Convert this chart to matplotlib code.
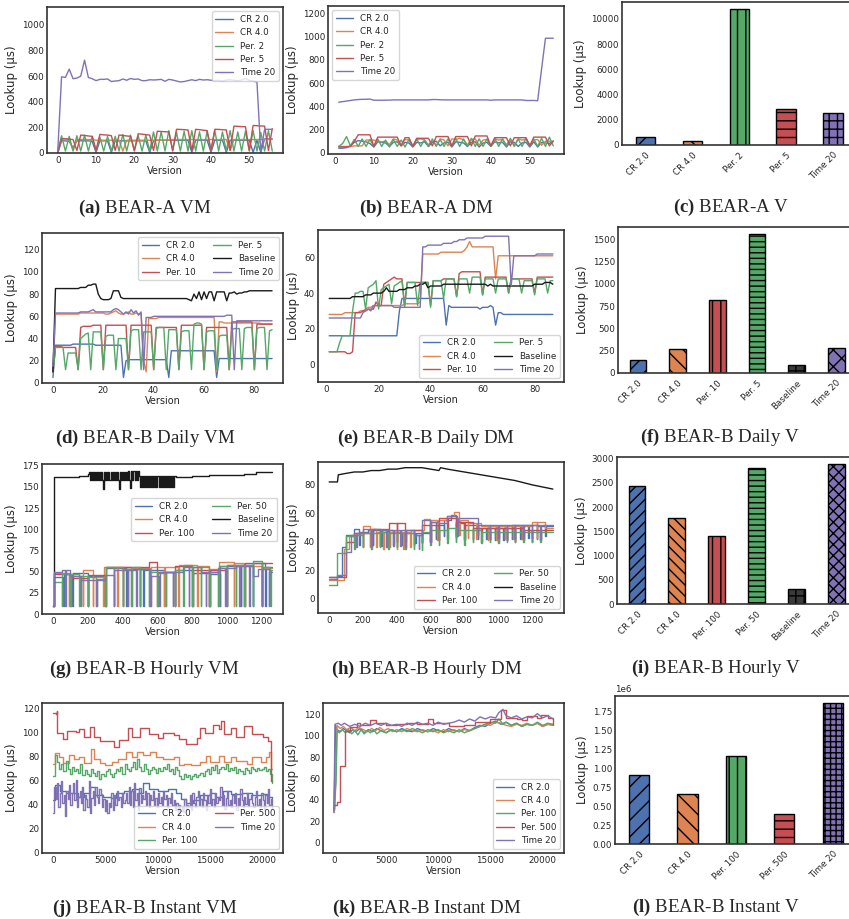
import numpy as np
import matplotlib
matplotlib.use('Agg')
import matplotlib.pyplot as plt
import seaborn as sns

# ---------------- (a) BEAR-A VM, versions 0..56
a_cr2 = [0, 95, 95, 90, 40, 95, 95, 95, 95, 90,
         5, 95, 95, 95, 5, 95, 95, 95, 95, 95,
         95, 95, 95, 95, 5, 95, 100, 100, 100, 100,
         100, 100, 100, 100, 100, 5, 100, 100, 100, 100,
         5, 100, 100, 100, 5, 100, 100, 100, 100, 100,
         100, 5, 100, 5, 110, 110, 110]
a_cr4 = [0, 115, 112, 110, 20, 105, 105, 105, 105, 105,
         100, 100, 100, 100, 100, 100, 100, 15, 100, 100,
         100, 100, 100, 100, 100, 100, 100, 100, 100, 100,
         105, 105, 105, 105, 105, 105, 105, 105, 105, 105,
         105, 105, 105, 105, 105, 20, 105, 105, 105, 105,
         105, 105, 105, 105, 105, 105, 105]
a_per2 = [15, 135, 15, 130, 15, 135, 15, 140, 15, 130,
          15, 125, 15, 130, 15, 130, 15, 145, 15, 140,
          15, 135, 15, 140, 15, 165, 15, 165, 15, 175,
          15, 160, 15, 170, 15, 175, 15, 165, 15, 170,
          15, 175, 15, 165, 15, 175, 15, 165, 15, 170,
          15, 175, 15, 160, 15, 175, 15]
a_per5 = [0, 110, 110, 108, 105, 20, 140, 137, 133, 130,
          20, 145, 142, 140, 135, 20, 140, 137, 133, 130,
          20, 150, 147, 143, 140, 20, 170, 168, 166, 165,
          20, 185, 184, 182, 180, 20, 185, 182, 178, 175,
          20, 185, 184, 182, 180, 20, 210, 208, 206, 205,
          20, 215, 213, 211, 210, 20, 190]
a_time20 = [10, 595, 590, 655, 580, 585, 600, 725, 590, 580,
            565, 575, 575, 578, 558, 562, 565, 578, 568, 582,
            575, 578, 565, 565, 572, 570, 572, 575, 560, 575,
            570, 562, 555, 558, 565, 572, 565, 575, 570, 572,
            568, 565, 568, 560, 570, 572, 568, 565, 570, 582,
            568, 560, 555, 10, 185, 185, 185]

# ---------------- (b) BEAR-A DM, versions 1..56
b_cr2 = [40, 40, 45, 60, 90, 105, 100, 95, 80, 50,
         95, 90, 85, 55, 90, 95, 60, 90, 85, 50,
         90, 85, 95, 55, 90, 100, 60, 85, 90, 50,
         95, 90, 85, 55, 90, 95, 50, 85, 90, 55,
         95, 85, 90, 50, 95, 90, 55, 85, 90, 50,
         95, 50, 90, 85, 80, 100]
b_cr4 = [55, 55, 55, 55, 60, 60, 60, 110, 110, 110,
         100, 95, 100, 70, 120, 110, 65, 115, 110, 60,
         115, 120, 110, 70, 105, 65, 120, 110, 60, 120,
         115, 125, 110, 70, 115, 120, 65, 110, 115, 60,
         120, 110, 115, 70, 115, 60, 120, 110, 115, 70,
         110, 115, 65, 100, 100, 100]
b_per2 = [55, 80, 140, 60, 115, 55, 120, 55, 115, 55,
          120, 55, 110, 50, 115, 55, 110, 50, 115, 55,
          120, 55, 110, 55, 120, 55, 115, 55, 120, 55,
          125, 55, 120, 55, 125, 55, 120, 55, 120, 55,
          125, 55, 120, 55, 125, 55, 120, 55, 125, 55,
          120, 55, 125, 55, 135, 60]
b_per5 = [50, 50, 50, 55, 100, 155, 155, 155, 155, 55,
          135, 135, 135, 135, 135, 135, 60, 130, 130, 55,
          125, 125, 125, 125, 60, 140, 140, 140, 140, 60,
          140, 140, 140, 140, 60, 145, 145, 145, 145, 60,
          130, 130, 130, 130, 60, 130, 130, 130, 130, 60,
          135, 135, 135, 135, 60, 100]
b_time20 = [435, 440, 445, 450, 455, 458, 460, 460, 462, 452,
            452, 452, 453, 453, 455, 455, 455, 455, 455, 455,
            455, 455, 455, 455, 458, 458, 456, 455, 455, 455,
            455, 455, 455, 455, 455, 455, 455, 455, 455, 452,
            455, 455, 455, 455, 455, 455, 455, 455, 450, 450,
            450, 448, 720, 985, 985, 985]

# ---------------- (c) BEAR-A V
c_labels = ['CR 2.0', 'CR 4.0', 'Per. 2', 'Per. 5', 'Time 20']
c_vals = [600, 300, 10800, 2850, 2550]

# ---------------- (d) BEAR-B Daily VM, versions 0..87
d_cr2 = [5, 34, 34, 34, 34, 34, 34, 34, 35, 35,
         35, 35, 35, 35, 35, 35, 35, 34, 34, 34,
         34, 34, 34, 34, 34, 34, 34, 34, 5, 20,
         21, 21, 21, 21, 21, 21, 21, 21, 21, 21,
         21, 21, 21, 21, 21, 21, 5, 29, 29, 29,
         29, 29, 29, 29, 29, 29, 29, 29, 29, 29,
         29, 29, 29, 29, 29, 5, 22, 22, 22, 22,
         22, 22, 22, 22, 22, 22, 22, 22, 22, 22,
         22, 22, 22, 22, 22, 22, 22, 22]
d_cr4 = [10, 62, 62, 62, 62, 62, 62, 62, 62, 62,
         62, 63, 63, 63, 63, 63, 63, 63, 63, 63,
         63, 62, 62, 63, 64, 65, 63, 62, 62, 63,
         64, 62, 62, 63, 62, 62, 20, 10, 58, 58,
         58, 58, 59, 59, 59, 59, 59, 59, 59, 59,
         59, 59, 59, 59, 59, 59, 59, 59, 59, 59,
         59, 59, 59, 59, 59, 10, 55, 55, 54, 54,
         54, 54, 54, 54, 54, 54, 54, 54, 54, 54,
         54, 54, 54, 53, 53, 53, 53, 53]
d_per10 = [10, 33, 33, 33, 32, 32, 32, 32, 32, 32,
           12, 50, 51, 51, 51, 51, 52, 52, 52, 52,
           12, 52, 52, 52, 52, 52, 52, 52, 52, 52,
           12, 52, 52, 52, 52, 52, 52, 52, 52, 52,
           12, 50, 50, 50, 50, 50, 50, 50, 50, 50,
           12, 52, 52, 52, 52, 52, 52, 52, 52, 52,
           12, 50, 50, 50, 50, 50, 50, 50, 50, 50,
           12, 55, 55, 55, 55, 55, 55, 55, 55, 55,
           12, 53, 53, 53, 53, 53, 53, 53]
d_per5 = [10, 32, 32, 32, 32, 12, 27, 27, 27, 27,
          12, 40, 42, 44, 45, 12, 46, 46, 46, 46,
          12, 42, 43, 43, 43, 12, 40, 40, 40, 40,
          12, 47, 48, 48, 48, 12, 46, 46, 46, 46,
          12, 49, 50, 50, 50, 12, 48, 48, 48, 48,
          12, 46, 47, 47, 47, 12, 53, 54, 54, 53,
          12, 46, 47, 47, 47, 12, 42, 43, 43, 43,
          12, 48, 49, 49, 49, 12, 49, 50, 50, 50,
          12, 49, 50, 50, 50, 12, 47, 48]
d_base = [10, 85, 85, 85, 85, 85, 85, 85, 85, 85,
          85, 86, 86, 86, 88, 88, 89, 89, 80, 76,
          75, 75, 75, 76, 83, 83, 83, 77, 76, 76,
          76, 76, 76, 76, 76, 76, 76, 76, 76, 76,
          76, 76, 76, 76, 76, 76, 76, 76, 76, 76,
          76, 76, 76, 76, 75, 74, 80, 76, 82, 75,
          82, 76, 82, 82, 74, 82, 82, 82, 82, 74,
          81, 81, 82, 80, 81, 81, 82, 82, 83, 83,
          83, 83, 83, 83, 83, 83, 83, 83]
d_time20 = [15, 63, 63, 63, 63, 63, 63, 63, 63, 63,
            63, 64, 64, 64, 64, 65, 66, 64, 64, 64,
            64, 64, 64, 64, 66, 67, 66, 64, 62, 64,
            62, 66, 63, 65, 61, 64, 12, 59, 59, 59,
            60, 60, 60, 60, 60, 60, 60, 60, 60, 60,
            60, 60, 60, 60, 60, 60, 60, 60, 60, 60,
            60, 60, 60, 60, 60, 60, 60, 60, 60, 61,
            61, 61, 12, 56, 56, 56, 56, 56, 56, 56,
            56, 56, 56, 56, 56, 56, 56, 56]

# ---------------- (e) BEAR-B Daily DM, versions 1..87
e_cr2 = [16, 16, 16, 16, 16, 16, 16, 16, 16, 16,
         16, 16, 16, 16, 16, 16, 16, 16, 16, 16,
         16, 16, 16, 16, 16, 16, 16, 30, 37, 37,
         37, 37, 37, 37, 37, 37, 37, 37, 37, 37,
         37, 37, 37, 37, 37, 22, 33, 32, 32, 32,
         32, 32, 32, 32, 32, 32, 32, 32, 31, 32,
         32, 32, 33, 32, 22, 29, 29, 28, 28, 28,
         28, 28, 28, 28, 28, 28, 28, 28, 28, 28,
         28, 28, 28, 28, 28, 28, 28]
e_cr4 = [28, 28, 28, 28, 28, 28, 29, 29, 29, 29,
         29, 29, 30, 30, 31, 32, 32, 33, 33, 33,
         33, 33, 33, 33, 33, 33, 33, 33, 33, 34,
         34, 34, 34, 34, 34, 35, 62, 62, 62, 62,
         62, 62, 62, 63, 63, 63, 63, 63, 63, 63,
         63, 63, 64, 66, 69, 66, 66, 66, 66, 66,
         66, 66, 66, 66, 48, 61, 61, 61, 61, 61,
         61, 61, 61, 61, 61, 61, 61, 61, 61, 61,
         61, 61, 61, 61, 61, 61, 61]
e_per10 = [7, 7, 7, 7, 7, 7, 7, 6, 6, 7,
           29, 29, 29, 30, 30, 31, 31, 31, 35, 33,
           33, 45, 46, 47, 48, 49, 48, 48, 48, 33,
           46, 46, 46, 46, 46, 46, 46, 46, 46, 33,
           47, 47, 47, 47, 48, 48, 48, 48, 48, 38,
           51, 52, 52, 52, 52, 52, 52, 52, 52, 39,
           49, 49, 49, 49, 49, 49, 49, 49, 49, 40,
           48, 48, 48, 48, 48, 48, 48, 48, 48, 40,
           49, 49, 49, 49, 49, 49, 49]
e_per5 = [7, 7, 7, 7, 12, 16, 16, 16, 16, 30,
          40, 40, 41, 41, 31, 43, 44, 45, 47, 31,
          42, 43, 44, 45, 34, 44, 45, 46, 47, 32,
          46, 46, 46, 46, 33, 46, 46, 46, 46, 32,
          47, 47, 47, 47, 37, 48, 48, 48, 48, 38,
          48, 48, 48, 48, 40, 49, 49, 49, 49, 39,
          48, 48, 48, 48, 40, 48, 48, 48, 48, 40,
          48, 48, 48, 48, 40, 47, 47, 47, 47, 39,
          48, 48, 48, 48, 40, 47, 47]
e_base = [37, 37, 37, 37, 37, 37, 37, 37, 37, 38,
          38, 38, 38, 38, 39, 39, 39, 40, 40, 40,
          40, 41, 43, 41, 41, 41, 41, 42, 42, 42,
          43, 43, 43, 44, 44, 45, 45, 46, 43, 44,
          44, 44, 44, 44, 45, 45, 45, 45, 45, 45,
          45, 45, 45, 45, 45, 45, 45, 45, 45, 45,
          45, 44, 45, 44, 44, 44, 44, 44, 44, 44,
          44, 44, 44, 44, 44, 44, 44, 44, 44, 45,
          45, 45, 45, 46, 46, 46, 45]
e_time20 = [26, 26, 26, 26, 26, 26, 26, 26, 26, 26,
            26, 26, 26, 29, 30, 31, 30, 33, 33, 33,
            33, 33, 33, 33, 33, 32, 32, 32, 32, 32,
            32, 32, 32, 32, 32, 32, 66, 66, 67, 67,
            67, 67, 67, 67, 68, 68, 68, 68, 69, 69,
            70, 70, 70, 71, 71, 71, 71, 71, 71, 71,
            72, 72, 72, 72, 72, 72, 72, 72, 72, 72,
            44, 61, 61, 61, 61, 61, 61, 61, 61, 61,
            62, 62, 62, 62, 62, 62, 62]

# ---------------- (f) BEAR-B Daily V
f_labels = ['CR 2.0', 'CR 4.0', 'Per. 10', 'Per. 5', 'Baseline', 'Time 20']
f_vals = [145, 265, 815, 1560, 85, 280]

# ---------------- (g) BEAR-B Hourly VM (version, value) step points
g_cr2 = [(0, 10), (5, 44), (60, 10), (63, 47), (110, 10), (113, 48), (200, 10), (203, 45),
         (300, 10), (303, 54), (420, 10), (423, 53), (520, 10), (523, 52), (640, 10), (643, 50),
         (700, 10), (703, 52), (800, 10), (803, 48), (900, 10), (903, 47), (960, 10), (963, 57),
         (1080, 10), (1083, 58), (1150, 10), (1153, 60), (1220, 10), (1223, 56), (1260, 56)]
g_cr4 = [(0, 10), (5, 48), (90, 10), (93, 45), (170, 10), (173, 52), (230, 10), (233, 44),
         (290, 10), (293, 56), (370, 10), (373, 55), (450, 10), (453, 54), (560, 10), (563, 55),
         (640, 10), (643, 55), (720, 10), (723, 58), (830, 10), (833, 57), (900, 10), (903, 53),
         (950, 10), (953, 61), (1040, 10), (1043, 60), (1100, 10), (1103, 57), (1200, 10),
         (1203, 54), (1260, 54)]
g_per100 = [(0, 10), (5, 47), (100, 10), (103, 43), (200, 10), (203, 46), (300, 10), (303, 55),
            (400, 10), (403, 55), (500, 10), (503, 55), (550, 61), (600, 10), (603, 49),
            (700, 10), (703, 57), (800, 10), (803, 52), (900, 10), (903, 52), (1000, 10),
            (1003, 58), (1100, 10), (1103, 60), (1200, 10), (1203, 60), (1260, 60)]
g_per50 = [(0, 10), (5, 38), (50, 10), (53, 47), (100, 10), (103, 47), (150, 10), (153, 45),
           (200, 10), (203, 44), (250, 10), (253, 41), (300, 10), (303, 56), (350, 10), (353, 55),
           (400, 10), (403, 53), (450, 10), (453, 56), (500, 10), (503, 53), (550, 10), (553, 50),
           (600, 10), (603, 48), (650, 10), (653, 50), (700, 10), (703, 52), (750, 10), (753, 58),
           (800, 10), (803, 55), (850, 10), (853, 55), (900, 10), (903, 50), (950, 10), (953, 57),
           (1000, 10), (1003, 58), (1050, 10), (1053, 58), (1100, 10), (1103, 58), (1150, 10),
           (1153, 62), (1200, 10), (1203, 56), (1250, 10), (1253, 52), (1260, 52)]
# baseline: start, two dense oscillating bands (one value every 6 versions), smooth tail
g_base_head = [(0, 10), (5, 162), (100, 162), (150, 163), (200, 165)]
g_base_band1 = [168, 158, 168, 158, 168, 158, 168, 158, 168, 158,
                168, 158, 168, 158, 148, 168, 158, 168, 158, 168,
                158, 168, 158, 168, 158, 168, 158, 168, 158, 148,
                168, 158, 168, 158, 168, 158, 168, 158, 169, 158,
                149, 169, 158, 169, 158, 169, 158, 169]
g_base_band2 = [163, 150, 163, 150, 163, 150, 163, 150, 163, 150,
                163, 150, 163, 150, 163, 150, 163, 150, 163, 150,
                163, 150, 163, 150, 163, 150, 163, 150, 163, 150,
                163, 150, 163, 150, 163]
g_base_tail = [(705, 162), (800, 163), (900, 164), (1000, 164), (1100, 165), (1170, 167),
               (1260, 167)]
g_time20 = [(0, 10), (5, 49), (50, 52), (70, 10), (73, 52), (100, 45), (160, 10), (163, 40),
            (250, 10), (253, 40), (300, 46), (350, 10), (353, 52), (430, 10), (433, 52),
            (480, 10), (483, 53), (560, 10), (563, 45), (610, 10), (613, 50), (690, 10),
            (693, 50), (750, 55), (780, 10), (783, 55), (850, 50), (880, 10), (883, 50),
            (950, 54), (990, 10), (993, 54), (1050, 57), (1070, 10), (1073, 57), (1130, 10),
            (1133, 57), (1150, 45), (1180, 53), (1200, 10), (1203, 53), (1240, 10), (1243, 49),
            (1260, 49)]

# ---------------- (h) BEAR-B Hourly DM
h_cr2 = [(1, 15), (50, 16), (75, 36), (100, 45), (150, 49), (180, 38), (183, 47), (230, 48),
         (260, 38), (263, 48), (310, 37), (313, 48), (350, 48), (380, 38), (383, 47), (430, 38),
         (433, 46), (470, 46), (510, 39), (513, 46), (550, 40), (553, 46), (600, 54), (630, 42),
         (633, 52), (680, 44), (683, 55), (720, 59), (750, 44), (753, 53), (800, 42), (803, 52),
         (850, 52), (880, 42), (883, 50), (930, 42), (933, 50), (980, 41), (983, 50), (1030, 41),
         (1033, 50), (1080, 42), (1083, 52), (1130, 42), (1133, 52), (1180, 43), (1183, 52),
         (1230, 42), (1233, 51), (1280, 44), (1283, 51), (1324, 51)]
h_cr4 = [(1, 13), (90, 35), (120, 44), (160, 46), (200, 51), (240, 36), (243, 49), (280, 36),
         (283, 47), (320, 35), (323, 47), (360, 36), (363, 47), (400, 35), (403, 47), (440, 35),
         (443, 47), (480, 36), (483, 48), (560, 56), (600, 40), (603, 55), (640, 41), (643, 55),
         (700, 58), (740, 61), (770, 45), (773, 55), (820, 43), (823, 53), (870, 42), (873, 53),
         (900, 51), (940, 41), (943, 51), (990, 41), (993, 51), (1040, 42), (1043, 51),
         (1090, 42), (1093, 51), (1140, 42), (1143, 51), (1200, 54), (1230, 43), (1233, 54),
         (1280, 50), (1324, 50)]
h_per100 = [(1, 15), (100, 38), (103, 40), (150, 46), (200, 36), (203, 46), (250, 37), (253, 49),
            (300, 37), (303, 49), (350, 38), (353, 53), (400, 40), (403, 53), (450, 40),
            (453, 48), (500, 38), (503, 48), (550, 39), (553, 52), (600, 40), (603, 52),
            (650, 41), (653, 57), (700, 42), (703, 57), (750, 43), (753, 54), (800, 41),
            (803, 54), (850, 42), (853, 50), (900, 40), (903, 50), (950, 41), (953, 50),
            (1000, 40), (1003, 50), (1050, 41), (1053, 50), (1100, 40), (1103, 50), (1150, 41),
            (1153, 48), (1200, 40), (1203, 48), (1250, 41), (1253, 48), (1324, 48)]
h_per50 = [(1, 10), (50, 32), (100, 35), (103, 44), (150, 35), (153, 45), (200, 36), (203, 46),
           (250, 35), (253, 46), (300, 36), (303, 47), (350, 35), (353, 46), (400, 36), (403, 46),
           (450, 35), (453, 46), (500, 35), (503, 45), (550, 34), (553, 47), (600, 38), (603, 48),
           (650, 38), (653, 48), (700, 39), (703, 50), (750, 40), (753, 48), (800, 38), (803, 48),
           (850, 40), (853, 48), (900, 39), (903, 47), (950, 40), (953, 47), (1000, 39),
           (1003, 47), (1050, 40), (1053, 47), (1100, 40), (1103, 47), (1150, 40), (1153, 47),
           (1200, 40), (1203, 47), (1250, 40), (1253, 47), (1324, 47)]
h_base = [(1, 82), (50, 82), (55, 87), (100, 88), (150, 89), (200, 89), (250, 90), (300, 90),
          (350, 91), (400, 91), (450, 92), (500, 92), (550, 92), (600, 91), (650, 90), (660, 92),
          (700, 91), (800, 89), (900, 87), (1000, 85), (1100, 83), (1200, 80), (1324, 77)]
h_time20 = [(1, 14), (50, 17), (100, 33), (130, 45), (160, 36), (163, 46), (200, 49), (250, 37),
            (253, 49), (300, 48), (340, 36), (343, 48), (380, 37), (383, 48), (420, 37),
            (423, 48), (450, 36), (453, 48), (500, 45), (530, 35), (533, 45), (550, 55),
            (600, 40), (603, 54), (650, 53), (700, 58), (760, 44), (763, 57), (850, 57),
            (880, 45), (883, 52), (950, 42), (953, 52), (1000, 43), (1003, 52), (1050, 41),
            (1053, 52), (1100, 42), (1103, 52), (1150, 43), (1153, 52), (1200, 43), (1203, 52),
            (1250, 42), (1253, 52), (1324, 52)]

# ---------------- (i) BEAR-B Hourly V
i_labels = ['CR 2.0', 'CR 4.0', 'Per. 100', 'Per. 50', 'Baseline', 'Time 20']
i_vals = [2430, 1780, 1410, 2800, 300, 2890]

# ---------------- (j) BEAR-B Instant VM
j_cr2 = [(0, 44), (150, 57), (700, 52), (1200, 50), (1800, 50), (2400, 47), (3000, 50), (3500, 55),
         (4000, 48), (4800, 47), (5500, 46), (6000, 50), (6800, 52), (7500, 53), (8200, 50),
         (8600, 58), (9200, 53), (10000, 52), (11000, 53), (11700, 50), (12200, 45), (12700, 42),
         (13400, 44), (14000, 48), (15000, 50), (15500, 47), (16200, 52), (17000, 49), (18000, 50),
         (19000, 48), (20000, 49), (20500, 47), (20900, 46)]
j_cr4 = [(0, 74), (150, 83), (600, 80), (1000, 75), (1500, 82), (2000, 78), (2500, 80), (3000, 75),
         (3600, 87), (3900, 78), (4500, 75), (5000, 73), (5600, 76), (6200, 78), (7000, 84),
         (7500, 80), (8000, 84), (8600, 82), (9300, 84), (9800, 80), (10500, 78), (11500, 80),
         (12000, 73), (12500, 74), (13200, 73), (14000, 76), (14600, 81), (15000, 76), (15800, 81),
         (16300, 76), (17000, 80), (17500, 77), (18500, 74), (19000, 80), (19800, 76), (20300, 80),
         (20600, 84), (20800, 70), (20900, 70)]
# sampled evenly over versions 0..20900
j_per100 = [64, 82, 76, 70, 74, 68, 77, 70, 66, 72,
            68, 70, 67, 74, 65, 69, 66, 64, 70, 67,
            64, 68, 62, 66, 64, 68, 70, 66, 63, 67,
            70, 68, 72, 66, 74, 70, 68, 72, 76, 70,
            78, 72, 68, 74, 70, 66, 69, 72, 70, 67,
            71, 68, 72, 70, 74, 68, 70, 66, 72, 69,
            64, 62, 66, 63, 65, 62, 64, 66, 63, 65,
            67, 64, 68, 70, 66, 72, 69, 73, 67, 70,
            72, 70, 74, 68, 71, 69, 72, 67, 70, 68,
            66, 71, 69, 67, 72, 70, 68, 71, 69, 70,
            72, 68, 70, 66, 58]
j_per500 = [(0, 117), (250, 116), (350, 118), (400, 100), (1000, 95), (1300, 102), (2200, 101),
            (2500, 103), (3000, 97), (3500, 105), (3900, 97), (4500, 93), (5800, 88), (6300, 94),
            (7200, 104), (7500, 97), (8300, 104), (9200, 99), (10000, 96), (10500, 100),
            (11500, 98), (12000, 95), (12700, 91), (13700, 96), (14000, 104), (14500, 100),
            (15300, 107), (15800, 103), (16000, 110), (16300, 99), (17000, 104), (17500, 97),
            (18200, 106), (19000, 99), (20000, 97), (20500, 93), (20800, 60), (20900, 60)]
j_time20 = [33, 55, 45, 58, 38, 50, 60, 42,
            48, 31, 52, 45, 57, 40, 50, 58, 44, 61, 38, 47, 52, 42,
            55, 36, 48, 45, 38, 60, 33, 46, 52, 40, 55, 47, 42, 53, 49, 38,
            45, 35, 44, 33, 42, 38, 50, 36, 48, 40, 52, 44, 47, 38, 50, 42,
            44, 50, 42, 55, 40, 52, 38, 58, 44, 50, 36, 54, 42, 48, 45, 52,
            40, 50, 38, 48, 44, 52, 40, 46, 38, 50, 42, 47, 40, 52, 45, 48,
            38, 46, 42, 50, 40, 44, 36, 42, 33, 40, 35, 38, 34, 45, 36, 40,
            38, 48, 36, 50, 42, 38, 47, 52, 40, 45, 38, 50, 44, 36, 48, 42,
            53, 40, 45, 38, 50, 42, 47, 44, 55, 40, 48, 37, 46, 52, 40, 44,
            38, 48, 42, 50, 36, 46, 40, 53, 44, 38, 47, 41, 50, 39, 45, 48,
            42, 38, 47, 52, 40, 45, 38, 50, 44, 36, 48, 42, 53, 40, 45, 37]

# ---------------- (k) BEAR-B Instant DM
k_cr2 = [(0, 30), (60, 56), (150, 110), (300, 106), (600, 104), (900, 107), (1200, 105),
         (1500, 103), (1800, 106), (2100, 104), (2500, 107), (2900, 103), (3300, 106), (3700, 104),
         (4100, 107), (4500, 105), (5000, 103), (5500, 106), (6000, 104), (6500, 107), (7000, 105),
         (7500, 104), (8000, 107), (8500, 105), (9000, 104), (9500, 107), (10000, 105),
         (10500, 104), (11000, 107), (11500, 105), (12000, 104), (12500, 107), (13000, 105),
         (13500, 108), (14000, 110), (14500, 109), (15000, 112), (15500, 114), (16000, 111),
         (16500, 113), (17000, 110), (17500, 112), (18000, 109), (18500, 111), (19000, 110),
         (19500, 112), (20000, 109), (20500, 111), (21000, 110)]
k_cr4 = [(0, 28), (100, 32), (300, 110), (600, 107), (900, 109), (1200, 106), (1600, 108),
         (2000, 105), (2400, 108), (2800, 106), (3200, 104), (3600, 107), (4000, 105), (4400, 108),
         (4800, 105), (5200, 107), (5600, 104), (6000, 106), (6500, 104), (7000, 107), (7500, 105),
         (8000, 104), (8500, 106), (9000, 104), (9500, 105), (10000, 103), (10500, 106),
         (11000, 104), (11500, 106), (12000, 104), (12500, 106), (13000, 105), (13500, 107),
         (14000, 109), (14500, 111), (15000, 110), (15500, 113), (16000, 112), (16500, 110),
         (17000, 109), (17500, 111), (18000, 110), (18500, 112), (19000, 110), (19500, 112),
         (20000, 109), (20500, 111), (21000, 110)]
k_per100 = [(0, 30), (200, 57), (300, 105), (500, 103), (800, 106), (1100, 103), (1400, 106),
            (1700, 102), (2000, 105), (2300, 101), (2600, 106), (2900, 102), (3200, 105),
            (3500, 103), (3800, 106), (4100, 102), (4500, 105), (5000, 103), (5500, 106),
            (6000, 104), (6500, 106), (7000, 104), (7500, 107), (8000, 105), (8500, 103),
            (9000, 106), (9500, 104), (10000, 106), (10500, 103), (11000, 105), (11500, 103),
            (12000, 106), (12500, 103), (13000, 105), (13500, 107), (14000, 109), (14500, 111),
            (15000, 113), (15500, 112), (15800, 116), (16200, 111), (16500, 113), (17000, 110),
            (17500, 112), (18000, 109), (18500, 111), (19000, 110), (19500, 113), (20000, 110),
            (20500, 112), (21000, 111)]
k_per500 = [(0, 35), (300, 38), (600, 72), (1100, 105), (1500, 108), (2200, 112), (2500, 110),
            (3500, 115), (4000, 112), (5000, 110), (6000, 111), (7000, 112), (8000, 111),
            (9000, 116), (9500, 112), (11000, 109), (12500, 110), (13500, 113), (15000, 116),
            (16000, 124), (16500, 117), (17500, 116), (18000, 115), (18500, 119), (19500, 117),
            (19800, 120), (20500, 117), (21000, 110)]
k_time20 = [(0, 28), (100, 111), (400, 112), (700, 110), (1000, 112), (1500, 109), (2000, 111),
            (2500, 109), (3000, 112), (3500, 110), (4000, 112), (4500, 110), (5000, 112),
            (5500, 110), (6000, 111), (6500, 109), (7000, 112), (7500, 110), (8000, 113),
            (8500, 111), (9000, 112), (9500, 110), (10000, 113), (10500, 111), (11000, 112),
            (11500, 113), (12000, 115), (12500, 113), (13000, 116), (13500, 114), (14000, 118),
            (14500, 116), (15000, 118), (15500, 117), (15800, 122), (16200, 125), (16500, 119),
            (17000, 117), (17500, 119), (18000, 116), (18500, 118), (19000, 117), (19500, 121),
            (20000, 117), (20500, 119), (21000, 116)]

# ---------------- (l) BEAR-B Instant V
l_labels = ['CR 2.0', 'CR 4.0', 'Per. 100', 'Per. 500', 'Time 20']
l_vals = [910000, 665000, 1160000, 400000, 1860000]


sns.set_style('white')
plt.rcParams['font.family'] = ['DejaVu Sans']
plt.rcParams['hatch.linewidth'] = 1.0
plt.rcParams['mathtext.fontset'] = 'custom'
plt.rcParams['mathtext.rm'] = 'Liberation Serif'
plt.rcParams['mathtext.bf'] = 'Liberation Serif:bold'

pal = sns.color_palette('deep')
BLUE, ORANGE, GREEN, RED, PURPLE = pal[0], pal[1], pal[2], pal[3], pal[4]
BLACK = '#1a1a1a'
DARK = '#3a3a3a'

W, H = 849, 919
fig = plt.figure(figsize=(W / 100, H / 100), dpi=100)


def add_ax(l, t, r, b):
    return fig.add_axes([l / W, 1 - b / H, (r - l) / W, (b - t) / H])


def style(ax):
    ax.tick_params(labelsize=6.3, pad=2, length=0)
    for s in ax.spines.values():
        s.set_linewidth(1.2)
        s.set_color('#333333')


def pts(p):
    return [q[0] for q in p], [q[1] for q in p]


def lines(ax, series, legend_kw):
    style(ax)
    for x, y, lab, col, ds in series:
        ax.plot(x, y, color=col, lw=1.0, label=lab, drawstyle=ds)
    ax.set_xlabel('Version', fontsize=7, labelpad=1)
    ax.set_ylabel('Lookup (µs)', fontsize=8.5, labelpad=3)
    ax.legend(fontsize=6.3, **legend_kw)


def bars(ax, labels, vals, colors, hatches):
    style(ax)
    bc = ax.bar(range(len(labels)), vals, width=0.42, color=colors,
                edgecolor='black', linewidth=1.0)
    for p, h in zip(bc.patches, hatches):
        p.set_hatch(h)
    ax.set_xticks(range(len(labels)))
    ax.set_xticklabels(labels, rotation=45, ha='right', rotation_mode='anchor')
    ax.tick_params(axis='x', pad=4)
    ax.set_xlim(-0.5, len(labels) - 0.58)
    ax.set_ylabel('Lookup (µs)', fontsize=8.5, labelpad=3)
    ax.yaxis.get_offset_text().set_fontsize(6.3)


def caption(x, y, tag, text):
    fig.text(x / W, 1 - y / H, r'$\mathbf{(' + tag + r')}$ ' + text, ha='center', va='center',
             fontsize=13.6, family='Liberation Serif')


# (a)
ax = add_ax(47, 7, 283, 153)
xa = np.arange(len(a_time20))
lines(ax, [(xa, a_cr2, 'CR 2.0', BLUE, 'default'), (xa, a_cr4, 'CR 4.0', ORANGE, 'default'),
           (xa, a_per2, 'Per. 2', GREEN, 'default'), (xa, a_per5, 'Per. 5', RED, 'default'),
           (xa, a_time20, 'Time 20', PURPLE, 'default')], dict(loc='upper right'))
ax.set_ylim(0, 1140)
caption(145, 208, 'a', 'BEAR-A VM')

# (b)
ax = add_ax(328, 6, 564, 154)
xb = np.arange(1, len(b_time20) + 1)
lines(ax, [(xb, b_cr2, 'CR 2.0', BLUE, 'default'), (xb, b_cr4, 'CR 4.0', ORANGE, 'default'),
           (xb, b_per2, 'Per. 2', GREEN, 'default'), (xb, b_per5, 'Per. 5', RED, 'default'),
           (xb, b_time20, 'Time 20', PURPLE, 'default')], dict(loc='upper left'))
ax.set_ylim(-10, 1262)
caption(426, 208, 'b', 'BEAR-A DM')

# (c)
ax = add_ax(622, 2, 853, 145)
bars(ax, c_labels, c_vals, [BLUE, ORANGE, GREEN, RED, PURPLE], ['//', '\\\\', '||', '--', '++'])
caption(731, 207, 'c', 'BEAR-A V')

# (d)
ax = add_ax(42, 233, 283, 383)
xd = np.arange(len(d_base))
lines(ax, [(xd, d_cr2, 'CR 2.0', BLUE, 'default'), (xd, d_cr4, 'CR 4.0', ORANGE, 'default'),
           (xd, d_per10, 'Per. 10', RED, 'default'), (xd, d_per5, 'Per. 5', GREEN, 'default'),
           (xd, d_base, 'Baseline', BLACK, 'default'), (xd, d_time20, 'Time 20', PURPLE, 'default')],
      dict(loc='upper right', ncol=2))
ax.set_ylim(0, 135)
caption(145, 438, 'd', 'BEAR-B Daily VM')

# (e)
ax = add_ax(318, 230, 564, 382)
xe = np.arange(1, len(e_base) + 1)
lines(ax, [(xe, e_cr2, 'CR 2.0', BLUE, 'default'), (xe, e_cr4, 'CR 4.0', ORANGE, 'default'),
           (xe, e_per10, 'Per. 10', RED, 'default'), (xe, e_per5, 'Per. 5', GREEN, 'default'),
           (xe, e_base, 'Baseline', BLACK, 'default'), (xe, e_time20, 'Time 20', PURPLE, 'default')],
      dict(loc='lower right', ncol=2))
ax.set_ylim(-10, 75.5)
caption(426, 438, 'e', 'BEAR-B Daily DM')

# (f)
ax = add_ax(618, 227, 853, 373)
bars(ax, f_labels, f_vals, [BLUE, ORANGE, RED, GREEN, DARK, PURPLE],
     ['//', '\\\\', '||', '---', '++', 'xx'])
caption(720, 437, 'f', 'BEAR-B Daily V')

# (g)
ax = add_ax(42, 464, 283, 614)
gbx = ([p[0] for p in g_base_head] + list(np.arange(len(g_base_band1)) * 6 + 205)
       + list(np.arange(len(g_base_band2)) * 6 + 493) + [p[0] for p in g_base_tail])
gby = [p[1] for p in g_base_head] + g_base_band1 + g_base_band2 + [p[1] for p in g_base_tail]
lines(ax, [(*pts(g_cr2), 'CR 2.0', BLUE, 'steps-post'), (*pts(g_cr4), 'CR 4.0', ORANGE, 'steps-post'),
           (*pts(g_per100), 'Per. 100', RED, 'steps-post'), (*pts(g_per50), 'Per. 50', GREEN, 'steps-post'),
           (gbx, gby, 'Baseline', BLACK, 'steps-post'), (*pts(g_time20), 'Time 20', PURPLE, 'steps-post')],
      dict(loc='upper right', ncol=2, bbox_to_anchor=(0.995, 0.80)))
ax.set_ylim(0, 177)
caption(144, 669, 'g', 'BEAR-B Hourly VM')

# (h)
ax = add_ax(318, 462, 564, 613)
lines(ax, [(*pts(h_cr2), 'CR 2.0', BLUE, 'steps-post'), (*pts(h_cr4), 'CR 4.0', ORANGE, 'steps-post'),
           (*pts(h_per100), 'Per. 100', RED, 'steps-post'), (*pts(h_per50), 'Per. 50', GREEN, 'steps-post'),
           (*pts(h_base), 'Baseline', BLACK, 'default'), (*pts(h_time20), 'Time 20', PURPLE, 'steps-post')],
      dict(loc='lower right', ncol=2))
ax.set_ylim(-10, 96)
caption(427, 669, 'h', 'BEAR-B Hourly DM')

# (i)
ax = add_ax(617, 457, 853, 604)
bars(ax, i_labels, i_vals, [BLUE, ORANGE, RED, GREEN, DARK, PURPLE],
     ['///', '\\\\\\', '||', '---', '++', 'xxx'])
caption(716, 668, 'i', 'BEAR-B Hourly V')

# (j)
ax = add_ax(42, 703, 283, 853)
xg = np.linspace(0, 20900, len(j_per100))
xp = np.linspace(0, 20900, len(j_time20))
lines(ax, [(*pts(j_cr2), 'CR 2.0', BLUE, 'steps-post'), (*pts(j_cr4), 'CR 4.0', ORANGE, 'steps-post'),
           (xg, j_per100, 'Per. 100', GREEN, 'steps-post'), (*pts(j_per500), 'Per. 500', RED, 'steps-post'),
           (xp, j_time20, 'Time 20', PURPLE, 'steps-post')],
      dict(loc='lower right', ncol=2))
ax.set_ylim(0, 125)
caption(145, 908, 'j', 'BEAR-B Instant VM')

# (k)
ax = add_ax(323, 703, 564, 853)
lines(ax, [(*pts(k_cr2), 'CR 2.0', BLUE, 'default'), (*pts(k_cr4), 'CR 4.0', ORANGE, 'default'),
           (*pts(k_per100), 'Per. 100', GREEN, 'default'), (*pts(k_per500), 'Per. 500', RED, 'steps-post'),
           (*pts(k_time20), 'Time 20', PURPLE, 'default')],
      dict(loc='lower right'))
ax.set_ylim(-10, 131)
caption(427, 908, 'k', 'BEAR-B Instant DM')

# (l)
ax = add_ax(615, 696, 853, 844)
bars(ax, l_labels, l_vals, [BLUE, ORANGE, GREEN, RED, PURPLE], ['//', '\\\\', '||', '--', '+++'])
caption(716, 907, 'l', 'BEAR-B Instant V')

fig.savefig('out.png', dpi=100)
